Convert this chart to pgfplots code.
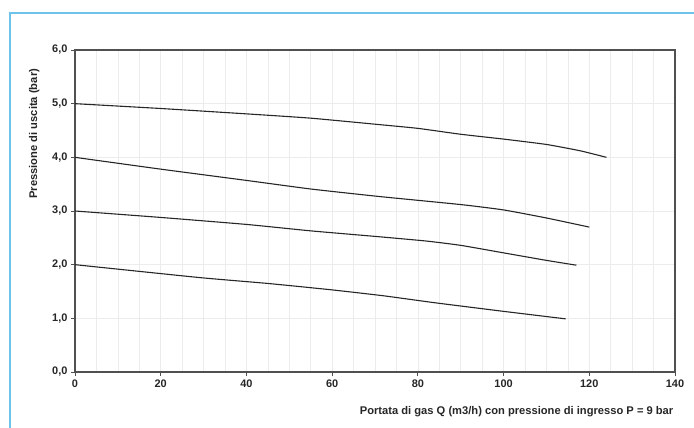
\documentclass[border=0pt]{standalone}
\usepackage{pgfplots}
\pgfplotsset{compat=1.18}
\usepackage{fontspec}
\setmainfont{Liberation Sans}
\definecolor{frameblue}{RGB}{110,195,235}
\definecolor{axgray}{RGB}{80,80,80}
\definecolor{gridgray}{RGB}{236,236,236}
\begin{document}
\begin{tikzpicture}
\path[use as bounding box] (0bp,0bp) rectangle (694bp,428bp);
\draw[frameblue, line width=1.6bp] (10bp,0bp) -- (10bp,415bp) -- (694bp,415bp);
\begin{axis}[
  at={(75bp,56bp)}, anchor=south west,
  scale only axis, width=600bp, height=322bp,
  xmin=0, xmax=140, ymin=0, ymax=6,
  xtick={0,20,...,140}, ytick={0,1,...,6},
  minor x tick num=3,
  grid=both,
  major grid style={gridgray, line width=0.6bp},
  minor grid style={gridgray, line width=0.6bp},
  minor tick length=0pt,
  major tick length=4bp,
  tick align=outside,
  xtick pos=bottom, ytick pos=left,
  axis line style={axgray, line width=1.4bp},
  every tick/.style={axgray, line width=1bp},
  /pgf/number format/assume math mode=true,
  yticklabel style={/pgf/number format/.cd, fixed, fixed zerofill, precision=1, use comma},
  xticklabel style={/pgf/number format/.cd, fixed, precision=0},
  tick label style={font=\fontsize{11}{13}\selectfont\bfseries, text=black!85},
  xlabel={Portata di gas Q (m3/h) con pressione di ingresso P = 9 bar},
  ylabel={Pressione di uscita (bar)},
  xlabel style={at={(axis description cs:1.003,-0.095)}, anchor=north east, font=\fontsize{11.2}{13}\selectfont\bfseries, text=black!85},
  ylabel style={at={(axis description cs:-0.068,0.74)}, anchor=center, font=\fontsize{11.2}{13}\selectfont\bfseries, text=black!85},
]
\addplot[black!85, line width=1.1bp, smooth, tension=0.3] coordinates {
(0,5.0) (20,4.91) (40,4.81) (55,4.73) (71,4.61) (80,4.54) (90,4.43) (100,4.34) (110,4.24) (118,4.12) (124,4.0)};
\addplot[black!85, line width=1.1bp, smooth, tension=0.3] coordinates {
(0,4.0) (20,3.78) (40,3.57) (55,3.41) (71,3.27) (90,3.12) (100,3.02) (110,2.87) (120,2.70)};
\addplot[black!85, line width=1.1bp, smooth, tension=0.3] coordinates {
(0,3.0) (20,2.88) (40,2.75) (55,2.63) (71,2.52) (82,2.44) (90,2.36) (100,2.22) (110,2.08) (117,1.99)};
\addplot[black!85, line width=1.1bp, smooth, tension=0.3] coordinates {
(0,2.0) (29,1.76) (45,1.65) (60,1.53) (72,1.42) (84,1.29) (100,1.13) (114.5,0.99)};
\end{axis}
\end{tikzpicture}
\end{document}
